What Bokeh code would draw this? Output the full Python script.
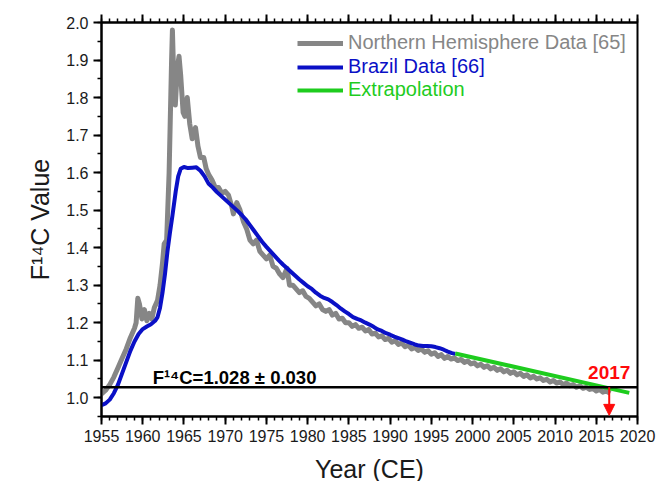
from bokeh.plotting import figure
from bokeh.models import (LinearAxis, SingleIntervalTicker, NumeralTickFormatter, Span,
                          Arrow, NormalHead, Legend, LegendItem, CustomJSTickFormatter)
from bokeh.core.properties import value
from bokeh.embed import file_html
from bokeh.resources import INLINE

# ---------------- data ----------------
nh_year = [1955.0, 1955.5, 1956.0, 1956.5, 1957.0, 1957.5, 1958.0, 1958.5, 1959.0, 1959.2,
           1959.4, 1959.6, 1959.9, 1960.2, 1960.5, 1960.8, 1961.1, 1961.4, 1961.8, 1962.1,
           1962.4, 1962.6, 1962.9, 1963.2, 1963.5, 1963.6, 1963.8, 1963.95, 1964.2, 1964.4,
           1964.6, 1964.9, 1965.1, 1965.4, 1965.7, 1966.0, 1966.4, 1966.7, 1967.0, 1967.4,
           1967.7, 1968.0, 1968.4, 1968.8, 1969.2, 1969.6, 1970.0, 1970.4, 1970.8, 1971.0,
           1971.4, 1971.8, 1972.2, 1972.6, 1973.0, 1973.4, 1973.8, 1974.2, 1974.6, 1975.0,
           1975.4, 1975.8, 1976.2, 1976.6, 1977.0, 1977.5, 1977.8, 1978.2, 1978.6, 1979.0,
           1979.4, 1979.8, 1980.2, 1980.6, 1981.0, 1981.4, 1981.8, 1982.2, 1982.6, 1983.0,
           1983.4, 1983.8, 1984.2, 1984.6, 1985.0, 1985.4, 1985.8, 1986.2, 1986.6, 1987.0,
           1987.4, 1987.8, 1988.2, 1988.6, 1989.0, 1989.4, 1989.8, 1990.2, 1990.6, 1991.0,
           1991.4, 1991.8, 1992.2, 1992.6, 1993.0, 1993.4, 1993.8, 1994.2, 1994.6, 1995.0,
           1995.4, 1995.8, 1996.2, 1996.6, 1997.0, 1997.4, 1997.8, 1998.2, 1998.6, 1999.0,
           1999.4, 1999.8, 2000.2, 2000.6, 2001.0, 2001.4, 2001.8, 2002.2, 2002.6, 2003.0,
           2003.4, 2003.8, 2004.2, 2004.6, 2005.0, 2005.4, 2005.8, 2006.2, 2006.6, 2007.0,
           2007.4, 2007.8, 2008.2, 2008.6, 2009.0, 2009.4, 2009.8, 2010.2, 2010.6, 2011.0,
           2011.4, 2011.8, 2012.2, 2012.6, 2013.0, 2013.4, 2013.8, 2014.2, 2014.6, 2015.0,
           2015.4, 2015.8, 2016.2, 2016.7]
nh_f14c = [1.010, 1.020, 1.035, 1.055, 1.080, 1.105, 1.130, 1.160, 1.185, 1.200,
           1.265, 1.250, 1.210, 1.235, 1.205, 1.225, 1.210, 1.240, 1.260, 1.300,
           1.360, 1.410, 1.420, 1.600, 1.900, 1.980, 1.820, 1.780, 1.880, 1.910,
           1.860, 1.760, 1.750, 1.800, 1.730, 1.690, 1.720, 1.670, 1.640, 1.640,
           1.610, 1.595, 1.580, 1.560, 1.560, 1.545, 1.550, 1.540, 1.510, 1.490,
           1.520, 1.500, 1.470, 1.450, 1.420, 1.410, 1.420, 1.390, 1.380, 1.370,
           1.380, 1.350, 1.345, 1.330, 1.320, 1.345, 1.300, 1.300, 1.290, 1.280,
           1.285, 1.270, 1.265, 1.255, 1.245, 1.250, 1.235, 1.230, 1.235, 1.220,
           1.225, 1.210, 1.212, 1.200, 1.200, 1.190, 1.195, 1.185, 1.188, 1.178,
           1.182, 1.170, 1.172, 1.162, 1.165, 1.155, 1.158, 1.148, 1.152, 1.142,
           1.146, 1.136, 1.140, 1.130, 1.134, 1.126, 1.130, 1.121, 1.125, 1.116,
           1.120, 1.110, 1.115, 1.105, 1.110, 1.103, 1.106, 1.099, 1.102, 1.094,
           1.098, 1.090, 1.093, 1.085, 1.089, 1.081, 1.085, 1.077, 1.081, 1.073,
           1.077, 1.069, 1.073, 1.065, 1.069, 1.061, 1.065, 1.057, 1.061, 1.053,
           1.057, 1.050, 1.053, 1.046, 1.049, 1.042, 1.046, 1.039, 1.042, 1.035,
           1.039, 1.032, 1.035, 1.028, 1.032, 1.025, 1.028, 1.022, 1.025, 1.018,
           1.022, 1.015, 1.018, 1.012]

br_year = [1955.0, 1955.5, 1956.0, 1956.5, 1957.0, 1957.5, 1958.0, 1958.5, 1959.0, 1959.5,
           1960.0, 1960.5, 1961.0, 1961.5, 1961.8, 1962.1, 1962.4, 1962.7, 1963.0, 1963.3,
           1963.6, 1964.0, 1964.3, 1964.6, 1965.0, 1965.5, 1966.0, 1966.5, 1967.0, 1967.5,
           1968.0, 1968.5, 1969.0, 1969.5, 1970.0, 1970.5, 1971.0, 1971.5, 1972.0, 1972.5,
           1973.0, 1973.5, 1974.0, 1974.5, 1975.0, 1975.5, 1976.0, 1976.5, 1977.0, 1977.5,
           1978.0, 1978.5, 1979.0, 1979.5, 1980.0, 1980.5, 1981.0, 1981.5, 1982.0, 1982.5,
           1983.0, 1983.5, 1984.0, 1984.5, 1985.0, 1985.5, 1986.0, 1986.5, 1987.0, 1987.5,
           1988.0, 1988.5, 1989.0, 1989.5, 1990.0, 1990.5, 1991.0, 1991.5, 1992.0, 1992.5,
           1993.0, 1993.5, 1994.0, 1994.5, 1995.0, 1995.5, 1996.0, 1996.5, 1997.0, 1997.5,
           1997.9]
br_f14c = [0.980, 0.985, 0.995, 1.012, 1.035, 1.065, 1.095, 1.125, 1.150, 1.170,
           1.183, 1.190, 1.196, 1.205, 1.215, 1.240, 1.280, 1.330, 1.390, 1.440,
           1.485, 1.550, 1.590, 1.610, 1.615, 1.612, 1.613, 1.614, 1.605, 1.590,
           1.570, 1.560, 1.548, 1.538, 1.528, 1.518, 1.508, 1.498, 1.487, 1.475,
           1.460, 1.445, 1.430, 1.415, 1.402, 1.390, 1.378, 1.366, 1.355, 1.345,
           1.335, 1.325, 1.315, 1.306, 1.297, 1.290, 1.280, 1.272, 1.266, 1.262,
           1.255, 1.247, 1.238, 1.230, 1.223, 1.215, 1.210, 1.206, 1.200, 1.195,
           1.189, 1.182, 1.178, 1.172, 1.168, 1.163, 1.159, 1.155, 1.150, 1.146,
           1.142, 1.139, 1.138, 1.138, 1.137, 1.135, 1.132, 1.128, 1.123, 1.119,
           1.117]

ex_year = [1997.9, 2019.0]
ex_f14c = [1.118, 1.013]

ref_value = 1.028
arrow_year = 2016.57
label_text = "F¹⁴C=1.028 ± 0.030"
year_text = "2017"

FONT = "Liberation Sans"
GRAY = "#868686"
BLUE = "#0a10c6"
GREEN = "#1ecc1e"
RED = "#ff0a0a"

p = figure(frame_width=536, frame_height=394, x_range=(1955, 2020), y_range=(0.95, 2.0),
           output_backend="svg", toolbar_location=None,
           min_border_left=101, min_border_right=19, min_border_top=22, min_border_bottom=60,
           x_axis_label="Year (CE)", y_axis_label="F¹⁴C Value")
p.xgrid.visible = False
p.ygrid.visible = False
p.outline_line_color = "black"
p.outline_line_width = 2
p.background_fill_color = "white"
p.border_fill_color = "white"

bottom = p.xaxis[0]
left = p.yaxis[0]

xt = SingleIntervalTicker(interval=5, num_minor_ticks=5)
yt = SingleIntervalTicker(interval=0.1, num_minor_ticks=2)
bottom.ticker = xt
left.ticker = yt
bottom.formatter = NumeralTickFormatter(format="0")
left.formatter = NumeralTickFormatter(format="0.0")

top = LinearAxis(ticker=xt, formatter=CustomJSTickFormatter(code="return '';"),
                 major_label_standoff=0, major_label_text_font_size="10px")
p.add_layout(top, "above")

for ax in [bottom, left, top]:
    ax.axis_line_width = 2
    ax.axis_line_color = "black"
    ax.major_tick_line_width = 2
    ax.minor_tick_line_width = 1.5
    ax.major_tick_out = 8
    ax.major_tick_in = 0
    ax.minor_tick_out = 4
    ax.minor_tick_in = 0
    ax.major_label_text_font = FONT
    ax.major_label_text_color = "#1a1a1a"
    ax.axis_label_text_font = FONT
    ax.axis_label_text_font_style = "normal"
    ax.axis_label_text_font_size = "25px"
    ax.axis_label_text_color = "#1a1a1a"
for ax in [bottom, left]:
    ax.major_label_text_font_size = "16px"
    ax.major_label_standoff = 5
bottom.axis_label_standoff = 10
left.axis_label_standoff = 9

r_nh = p.line(nh_year, nh_f14c, line_color=GRAY, line_width=5, line_join="round")
r_br = p.line(br_year, br_f14c, line_color=BLUE, line_width=4, line_join="round")
r_ex = p.line(ex_year, ex_f14c, line_color=GREEN, line_width=4)

p.add_layout(Span(location=ref_value, dimension="width", line_color="black", line_width=2.5))

p.add_layout(Arrow(end=NormalHead(size=11, fill_color=RED, line_color=RED, line_width=1),
                   x_start=arrow_year, y_start=ref_value, x_end=arrow_year, y_end=0.953,
                   line_color=RED, line_width=2))

p.text(x=[1961.2], y=[1.053], text=[label_text], text_font=value(FONT),
       text_font_style="bold", text_font_size="18.5px", text_color="black",
       text_baseline="alphabetic", text_align="left")
p.text(x=[arrow_year], y=[1.067], text=[year_text], text_font=value(FONT),
       text_font_style="bold", text_font_size="19px", text_color=RED,
       text_baseline="alphabetic", text_align="center")

legend_specs = [("Northern Hemisphere Data [65]", r_nh, GRAY, 362),
                ("Brazil Data [66]", r_br, BLUE, 338),
                ("Extrapolation", r_ex, GREEN, 315)]
for label, rend, col, ypos in legend_specs:
    lg = Legend(items=[LegendItem(label=label, renderers=[rend])],
                location=(196, ypos), orientation="vertical",
                glyph_width=46, glyph_height=22, label_height=22, label_standoff=5,
                padding=0, margin=0, spacing=0,
                border_line_color=None, background_fill_alpha=0,
                label_text_font=FONT, label_text_font_size="20px", label_text_color=col)
    p.add_layout(lg, "center")

open("out.html", "w").write(file_html(p, INLINE))
